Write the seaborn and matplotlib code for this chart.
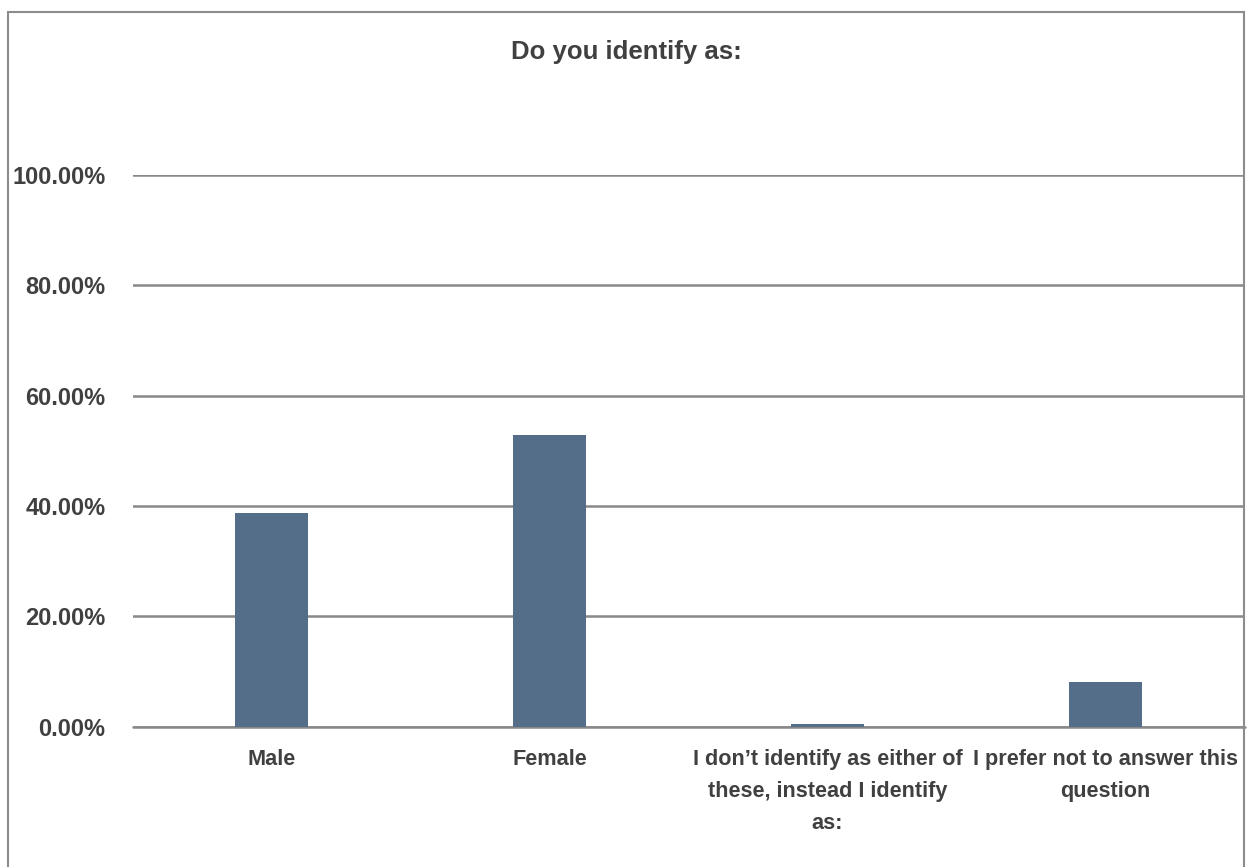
import matplotlib
matplotlib.use('Agg')
import matplotlib.pyplot as plt
import matplotlib.ticker as mticker
from matplotlib.patches import Rectangle
import seaborn as sns
import pandas as pd

# answers and share of respondents (percent)
categories = ["Male", "Female",
              "I don\u2019t identify as either of\nthese, instead I identify\nas:",
              "I prefer not to answer this\nquestion"]
percent = [38.7, 52.8, 0.5, 8.05]
yticks = [0, 20, 40, 60, 80, 100]

sns.set_style("white")
plt.rcParams['font.family'] = ['Liberation Sans', 'DejaVu Sans']

df = pd.DataFrame({"answer": categories, "pct": percent})

fig = plt.figure(figsize=(12.47, 8.67), dpi=100)
ax = fig.add_axes([0.1063, 0.1618, 0.8917, 0.6363])

sns.barplot(data=df, x="answer", y="pct", color="#546e8a", width=0.265,
            saturation=1, linewidth=0, ax=ax, zorder=3)

ax.set_ylim(0, 100)
ax.set_yticks(yticks)
ax.yaxis.set_major_formatter(mticker.FuncFormatter(lambda v, p: f"{v:.2f}%"))
ax.grid(axis='y', color='#888888', linewidth=1.8, zorder=0)
ax.axhline(0, color='#888888', linewidth=1.8, zorder=1, clip_on=False)
ax.set_axisbelow(True)
for s in ax.spines.values():
    s.set_visible(False)
ax.set_xlabel("")
ax.set_ylabel("")
ax.tick_params(axis='y', labelsize=17, colors='#404040', pad=19.5, length=0)
ax.tick_params(axis='x', labelsize=15.6, colors='#404040', pad=16, length=0)
for lbl in ax.get_xticklabels() + ax.get_yticklabels():
    lbl.set_fontweight('bold')
for lbl in ax.get_xticklabels():
    lbl.set_horizontalalignment('center')
    lbl.set_multialignment('center')
    lbl.set_verticalalignment('top')
    lbl.set_linespacing(1.7)

fig.text(0.502, 0.94, "Do you identify as:", ha='center', va='center',
         fontsize=18.5, fontweight='bold', color='#404040')

# outer chart frame
fig.patches.append(Rectangle((8 / 1247, -0.01), 1236 / 1247, 1.01 - 12 / 867,
                             transform=fig.transFigure, fill=False,
                             edgecolor='#8c8c8c', linewidth=1.5, zorder=5))

fig.savefig("out.png", dpi=100)
